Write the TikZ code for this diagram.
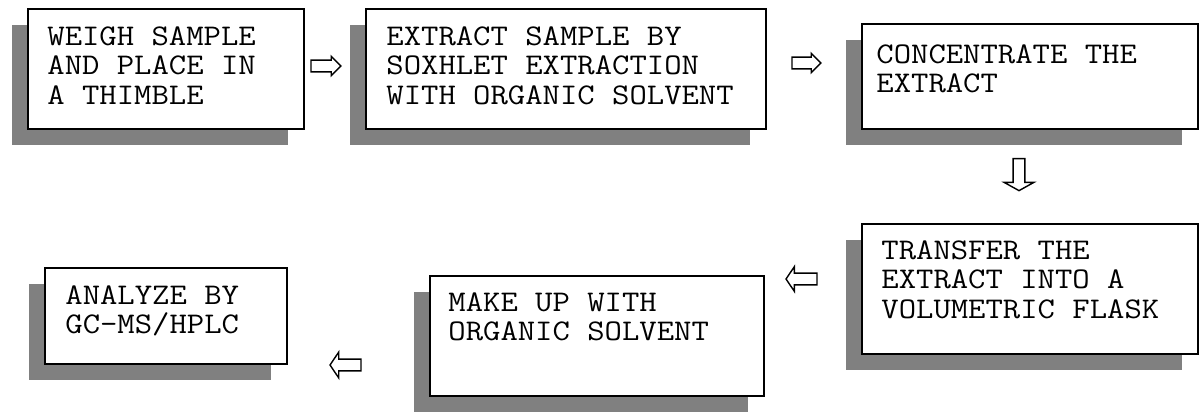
\documentclass[tikz,border=0pt]{standalone}
\usepackage{fontspec}
\usetikzlibrary{shapes.arrows,shadows}
\newfontfamily\boxfont[FakeStretch=1.124]{Latin Modern Mono}
\definecolor{shadegray}{HTML}{808080}

\tikzset{
  stepbox/.style={draw=black,line width=1pt,fill=white,rectangle,anchor=north west,
    inner sep=0pt,
    drop shadow={shadow xshift=-8pt,shadow yshift=-8pt,opacity=1,fill=shadegray}},
  steptext/.style={anchor=north west,inner sep=0pt,align=left,
    font=\boxfont\fontsize{15pt}{14.75pt}\selectfont},
  fatarrow/.style={single arrow,draw=black,line width=0.7pt,fill=white,
    inner sep=2.6pt,single arrow head indent=0pt}
}

\begin{document}
\begin{tikzpicture}[x=0.5pt,y=-0.5pt]
    \useasboundingbox (0,0) rectangle (1199,417);

    % top row
    \node[stepbox,minimum width=138pt,minimum height=60pt] (box1) at (27,8) {};
    \node[stepbox,minimum width=200pt,minimum height=60pt] (box2) at (365,8) {};
    \node[stepbox,minimum width=168pt,minimum height=52.5pt] (box3) at (861,23) {};

    % bottom row
    \node[stepbox,minimum width=168pt,minimum height=65pt] (box4) at (861,223) {};
    \node[stepbox,minimum width=167pt,minimum height=60pt] (box5) at (429,275) {};
    \node[stepbox,minimum width=121pt,minimum height=48pt] (box6) at (44,267) {};

    \node[steptext] (t1) at ([shift={(20,18)}]box1.north west) {WEIGH SAMPLE\\AND PLACE IN\\A THIMBLE};
    \node[steptext] (t2) at ([shift={(21,18)}]box2.north west) {EXTRACT SAMPLE BY\\SOXHLET EXTRACTION\\WITH ORGANIC SOLVENT};
    \node[steptext] (t3) at ([shift={(15,21)}]box3.north west) {CONCENTRATE THE\\EXTRACT};
    \node[steptext] (t4) at ([shift={(20,17)}]box4.north west) {TRANSFER THE\\EXTRACT INTO A\\VOLUMETRIC FLASK};
    \node[steptext] (t5) at ([shift={(19,17)}]box5.north west) {MAKE UP WITH\\ORGANIC SOLVENT};
    \node[steptext] (t6) at ([shift={(21,18)}]box6.north west) {ANALYZE BY\\GC-MS/HPLC};

    % arrows between the steps
    \node[fatarrow,minimum height=15pt,single arrow head extend=1.9pt] (a12) at (323,66) {};
    \node[fatarrow,minimum height=14.5pt,single arrow head extend=1.9pt] (a23) at (803.5,63) {};
    \node[fatarrow,minimum height=16pt,single arrow head extend=4.5pt,single arrow tip angle=122,
      shape border rotate=270] (a34) at (1019,173) {};
    \node[fatarrow,minimum height=15.5pt,single arrow head extend=3.2pt,single arrow tip angle=112,
      shape border rotate=180] (a45) at (803.5,279) {};
    \node[fatarrow,minimum height=15.5pt,single arrow head extend=3.5pt,single arrow tip angle=112,
      shape border rotate=180] (a56) at (347.5,365) {};
\end{tikzpicture}
\end{document}
